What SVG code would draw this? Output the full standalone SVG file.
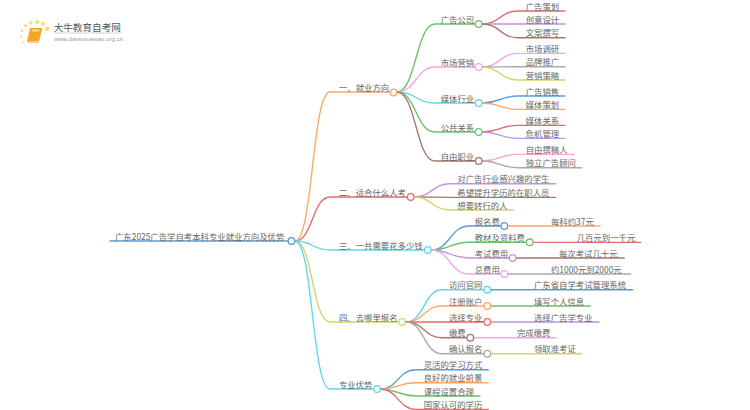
<svg xmlns="http://www.w3.org/2000/svg" width="750" height="410" viewBox="0 0 750 410">
<style>
text{font-family:"Noto Sans CJK SC","Liberation Sans",sans-serif;font-size:8.4px;fill:#666;transform:translateY(.6px)}
path{fill:none;stroke-width:1.35;stroke-linecap:round}
circle.n{fill:#fff;stroke-width:1.3}
.or{stroke:#ffa566}.re{stroke:#e86a6a}.cy{stroke:#5fd8e6}.ye{stroke:#d6d36a}.bl{stroke:#5b9bd5}.gr{stroke:#6bc46b}.pi{stroke:#f5a6df}.pu{stroke:#bf94e4}.br{stroke:#a9776a}.ga{stroke:#aaa}
.d{fill:#fcd77f}
</style>
<rect width="750" height="410" fill="#fff"/>
<g id="logo">
<circle class="d" cx="22" cy="31" r="1.3"/><circle class="d" cx="25.7" cy="25.7" r="1.6"/><circle class="d" cx="31" cy="22.7" r="1.8"/><circle class="d" cx="37.3" cy="22" r="1.9"/><circle class="d" cx="43" cy="24" r="2"/><circle class="d" cx="47.3" cy="28.7" r="2.2"/><circle class="d" cx="21.3" cy="36.7" r="1.1"/><circle class="d" cx="23.3" cy="42.300" r="1"/>
<polygon points="30,28 42.5,28 39,41.5 27,41.5" fill="#f5a623"/>
<polygon points="27,41.5 39,41.5 38.5,43 27.5,43" fill="#f9c67a"/>
<polygon points="32,29.5 40,29.5 39.5,31.5 31.5,31.5" fill="#fbd58c"/>
<text x="53.7" y="30.3" style="font-size:9.6px;fill:#555">大牛教育自考网</text>
<path d="M54 33H121" class="ga" style="stroke-width:.5"/>
<text x="54" y="40.500" style="font-size:6.1px;fill:#999;font-family:'Liberation Sans',sans-serif">www.daniuxuexiao.org.cn</text>
</g>
<g id="connectors">
<path class="bl" d="M110 241H291"/>
<path class="or" d="M295 241C313 241 312 92 330 92H393"/>
<path class="re" d="M295 241C313 241 312 197 330 197H410"/>
<path class="cy" d="M295 241C313 241 312 250 330 250H427"/>
<path class="ye" d="M295 241C313 241 312 322 330 322H402"/>
<path class="cy" d="M295 241C313 241 312 389 330 389H376"/>
<path class="gr" d="M397 92C416 92 416 24 435 24H478"/>
<path class="pi" d="M397 92C416 92 416 67 435 67H478"/>
<path class="cy" d="M397 92C416 92 416 103 435 103H478"/>
<path class="gr" d="M397 92C416 92 416 132 435 132H478"/>
<path class="br" d="M397 92C416 92 416 161 435 161H478"/>
<path class="re" d="M482 24C500 24 500 11 518 11H565"/>
<path class="pu" d="M482 24C500 24 500 24 518 24H565"/>
<path class="br" d="M482 24C500 24 500 37.700 518 37.700H565"/>
<path class="pi" d="M482 67C500 67 500 53.300 518 53.300H565"/>
<path class="ga" d="M482 67C500 67 500 66.700 518 66.700H565"/>
<path class="ye" d="M482 67C500 67 500 80 518 80H565"/>
<path class="bl" d="M482 103C500 103 500 96 518 96H565"/>
<path class="or" d="M482 103C500 103 500 109.300 518 109.300H565"/>
<path class="re" d="M482 132C500 132 500 125.300 518 125.300H565"/>
<path class="pu" d="M482 132C500 132 500 138.300 518 138.300H565"/>
<path class="pi" d="M482 161C500 161 500 154.300 518 154.300H573.700"/>
<path class="ga" d="M482 161C500 161 500 167.700 518 167.700H581.700"/>
<path class="pu" d="M414 197C432 197 432 183.700 450 183.700H555.700"/>
<path class="br" d="M414 197C432 197 432 197.300 450 197.300H555.700"/>
<path class="ye" d="M414 197C432 197 432 210 450 210H513.300"/>
<path class="bl" d="M431 250C450 250 450 226 469 226H504"/>
<path class="gr" d="M431 250C450 250 450 242.300 469 242.300H529"/>
<path class="pu" d="M431 250C450 250 450 258 469 258H512"/>
<path class="pi" d="M431 250C450 250 450 274 469 274H504"/>
<path class="or" d="M508 226H600"/>
<path class="re" d="M533 242.300H640.700"/>
<path class="br" d="M516 258H624.300"/>
<path class="ga" d="M508 274H630.700"/>
<path class="cy" d="M406 322C424 322 424 289.700 442 289.700H487"/>
<path class="or" d="M406 322C424 322 424 306 442 306H487"/>
<path class="re" d="M406 322C424 322 424 322 442 322H487"/>
<path class="br" d="M406 322C424 322 424 337.700 442 337.700H470"/>
<path class="ga" d="M406 322C424 322 424 353.700 442 353.700H487"/>
<path class="bl" d="M491 289.700H632.700"/>
<path class="gr" d="M491 306H590.300"/>
<path class="pu" d="M491 322H599"/>
<path class="pi" d="M474 337.700H556"/>
<path class="ye" d="M491 353.700H581.700"/>
<path class="bl" d="M380 389C398 389 398 369.700 416 369.700H488.300"/>
<path class="or" d="M380 389C398 389 398 382.700 416 382.700H488.300"/>
<path class="gr" d="M380 389C398 389 398 396 416 396H480"/>
<path class="re" d="M380 389C398 389 398 409.300 416 409.300H488.300"/>
</g>
<g id="root"><text x="115" y="239">广东2025广告学自考本科专业就业方向及优势</text><circle class="n bl" cx="291.500" cy="241" r="3.300"/></g>
<g id="b1"><text x="339" y="90">一、就业方向</text><circle class="n or" cx="393.500" cy="92.500" r="3.300"/></g>
<g id="b2"><text x="339" y="195">二、适合什么人考</text><circle class="n re" cx="410.700" cy="197" r="3.300"/></g>
<g id="b3"><text x="339" y="248">三、一共需要花多少钱</text><circle class="n cy" cx="427.700" cy="250" r="3.300"/></g>
<g id="b4"><text x="339" y="320">四、去哪里报名</text><circle class="n ye" cx="402" cy="322" r="3.300"/></g>
<g id="b5"><text x="339" y="387">专业优势</text><circle class="n cy" cx="377" cy="389" r="3.300"/></g>
<g id="c11"><text x="440.700" y="22">广告公司</text><circle class="n gr" cx="478.700" cy="24" r="3.300"/></g>
<g id="c12"><text x="440.700" y="65">市场营销</text><circle class="n pi" cx="478.700" cy="67" r="3.300"/></g>
<g id="c13"><text x="440.700" y="101">媒体行业</text><circle class="n cy" cx="478.700" cy="103" r="3.300"/></g>
<g id="c14"><text x="440.700" y="130">公共关系</text><circle class="n gr" cx="478.700" cy="132" r="3.300"/></g>
<g id="c15"><text x="440.700" y="159">自由职业</text><circle class="n br" cx="478.700" cy="161" r="3.300"/></g>
<g id="l1"><text x="525.700" y="9">广告策划</text></g>
<g id="l2"><text x="525.700" y="22">创意设计</text></g>
<g id="l3"><text x="525.700" y="35.700">文案撰写</text></g>
<g id="l4"><text x="525.700" y="51.300">市场调研</text></g>
<g id="l5"><text x="525.700" y="64.700">品牌推广</text></g>
<g id="l6"><text x="525.700" y="78">营销策略</text></g>
<g id="l7"><text x="525.700" y="94">广告销售</text></g>
<g id="l8"><text x="525.700" y="107.300">媒体策划</text></g>
<g id="l9"><text x="525.700" y="123.300">媒体关系</text></g>
<g id="l10"><text x="525.700" y="136.300">危机管理</text></g>
<g id="l11"><text x="525.700" y="152.300">自由撰稿人</text></g>
<g id="l12"><text x="525.700" y="165.700">独立广告顾问</text></g>
<g id="l13"><text x="457.300" y="181.700">对广告行业感兴趣的学生</text></g>
<g id="l14"><text x="457.300" y="195.300">希望提升学历的在职人员</text></g>
<g id="l15"><text x="457.300" y="208">想要转行的人</text></g>
<g id="c31"><text x="474.700" y="224">报名费</text><circle class="n bl" cx="504.300" cy="226" r="3.300"/></g>
<g id="c32"><text x="474.700" y="240.300">教材及资料费</text><circle class="n gr" cx="529.700" cy="242.300" r="3.300"/></g>
<g id="c33"><text x="474.700" y="256">考试费用</text><circle class="n pu" cx="512.700" cy="258" r="3.300"/></g>
<g id="c34"><text x="474.700" y="272">总费用</text><circle class="n pi" cx="504.300" cy="274" r="3.300"/></g>
<g id="l31"><text x="551" y="224">每科约37元</text></g>
<g id="l32"><text x="576.700" y="240.300">几百元到一千元</text></g>
<g id="l33"><text x="559" y="256">每次考试几十元</text></g>
<g id="l34"><text x="551" y="272">约1000元到2000元</text></g>
<g id="c41"><text x="449" y="287.700">访问官网</text><circle class="n cy" cx="487.300" cy="289.700" r="3.300"/></g>
<g id="c42"><text x="449" y="304">注册账户</text><circle class="n or" cx="487.300" cy="306" r="3.300"/></g>
<g id="c43"><text x="449" y="320">选择专业</text><circle class="n re" cx="487.300" cy="322" r="3.300"/></g>
<g id="c44"><text x="449" y="335.700">缴费</text><circle class="n br" cx="470.300" cy="337.700" r="3.300"/></g>
<g id="c45"><text x="449" y="351.700">确认报名</text><circle class="n ga" cx="487.300" cy="353.700" r="3.300"/></g>
<g id="l41"><text x="534" y="287.700">广东省自学考试管理系统</text></g>
<g id="l42"><text x="534" y="304">填写个人信息</text></g>
<g id="l43"><text x="534" y="320">选择广告学专业</text></g>
<g id="l44"><text x="517" y="335.700">完成缴费</text></g>
<g id="l45"><text x="534" y="351.700">领取准考证</text></g>
<g id="l51"><text x="423.700" y="367.700">灵活的学习方式</text></g>
<g id="l52"><text x="423.700" y="380.700">良好的就业前景</text></g>
<g id="l53"><text x="423.700" y="394">课程设置合理</text></g>
<g id="l54"><text x="423.700" y="407.300">国家认可的学历</text></g>
</svg>
